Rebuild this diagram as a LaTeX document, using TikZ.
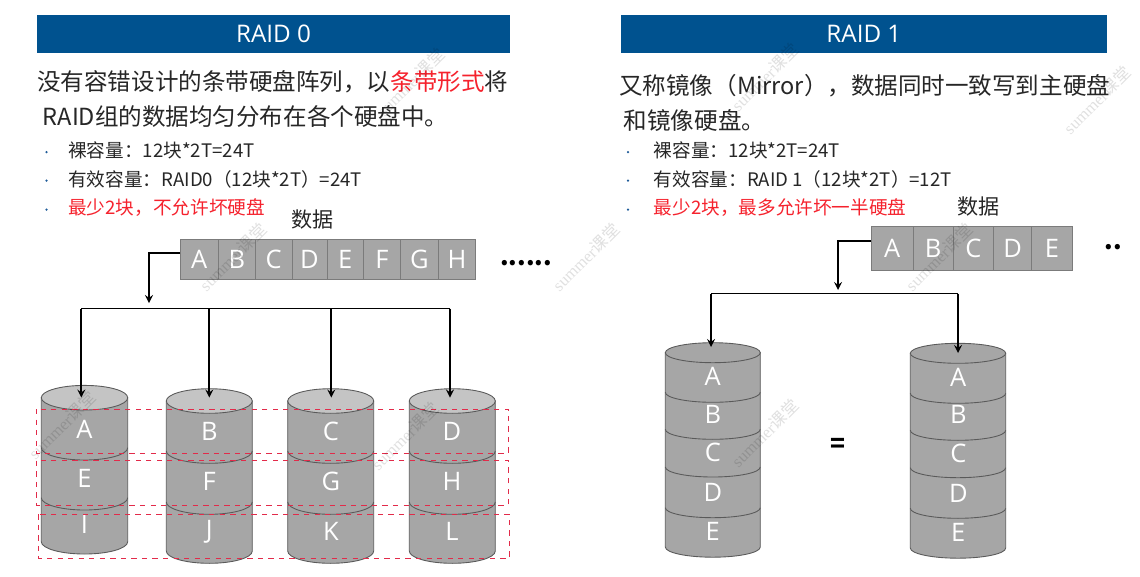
\documentclass[tikz,border=0pt]{standalone}
\usepackage{fontspec}
\setmainfont{Noto Sans CJK SC}
\newfontfamily\letterfont{Open Sans}
\newfontfamily\markfont{Liberation Serif}
\newfontfamily\markcjk{Noto Sans CJK SC}
\definecolor{barblue}{HTML}{00528F}
\definecolor{diskgray}{HTML}{A6A6A6}
\definecolor{disktop}{HTML}{C4C4C4}
\definecolor{diskline}{HTML}{5A5A5A}
\definecolor{stripered}{HTML}{E22B4A}
\definecolor{bodytext}{HTML}{262626}
\definecolor{hotred}{HTML}{F5222D}
\definecolor{dotblue}{HTML}{1F5C99}
\tikzset{
  titlebar/.style={fill=barblue,text=white,inner sep=0pt,minimum height=37.5*0.02cm,font=\letterfont\fontsize{13.8pt}{15pt}\selectfont},
  headline/.style={anchor=west,inner sep=0pt,text=bodytext,font=\fontsize{13.4pt}{16pt}\selectfont},
  itemline/.style={anchor=west,inner sep=0pt,text=bodytext,font=\fontsize{10.6pt}{12pt}\selectfont},
  bullet/.style={circle,fill=dotblue,inner sep=0pt,minimum size=2.5*0.02cm},
  datalabel/.style={inner sep=0pt,text=bodytext,font=\fontsize{12pt}{14pt}\selectfont},
  cell/.style={draw=diskline!80,fill=diskgray,text=white,inner sep=0pt,line width=0.4pt,font=\letterfont\fontsize{14.5pt}{16pt}\selectfont},
  cella/.style={cell,minimum height=40.3*0.02cm},
  cellb/.style={cell,minimum height=44.3*0.02cm},
  disk/.style={draw=diskline,fill=diskgray,line width=0.5pt},
  seam/.style={draw=diskline,line width=0.5pt},
  disklabel/.style={text=white,inner sep=0pt,font=\letterfont\fontsize{14.5pt}{16pt}\selectfont},
  wire/.style={draw=black,line width=1pt},
  arrow/.style={wire,-stealth},
  stripe/.style={draw=stripered,dashed,line width=0.5pt},
  dots/.style={inner sep=0pt,font=\bfseries\fontsize{14pt}{16pt}\selectfont},
  wmark/.style={rotate=45,inner sep=0pt,text=black,opacity=0.12,font=\markfont\fontsize{9.5pt}{11pt}\selectfont},
}

\begin{document}
\begin{tikzpicture}[x=0.02cm,y=-0.02cm]
\useasboundingbox (0,0) rectangle (1140,576);

% left panel
\node[titlebar,minimum width=473*0.02cm] (title0) at (273.5,34) {RAID 0};
\node[headline] (head0a) at (37,82) {没有容错设计的条带硬盘阵列，以\textcolor{hotred}{条带形式}将};
\node[headline] (head0b) at (42.5,116) {RAID组的数据均匀分布在各个硬盘中。};
\node[bullet] (dot0a) at (46.5,152) {};
\node[bullet] (dot0b) at (46.5,180.5) {};
\node[bullet] (dot0c) at (46.5,209.5) {};
\node[itemline] (item0a) at (68,150.7) {裸容量：12块*2T=24T};
\node[itemline] (item0b) at (68,179) {有效容量：RAID0（12块*2T）=24T};
\node[itemline,text=hotred] (item0c) at (68,208) {最少2块，不允许坏硬盘};
\node[datalabel] (data0) at (312.7,219.3) {数据};

\node[cella,minimum width=37.8*0.02cm] (a0) at (199.3,259.2) {A};
\node[cella,minimum width=37.1*0.02cm] (b0) at (236.8,259.2) {B};
\node[cella,minimum width=36.7*0.02cm] (c0) at (273.6,259.2) {C};
\node[cella,minimum width=34.9*0.02cm] (d0) at (309.5,259.2) {D};
\node[cella,minimum width=36.7*0.02cm] (e0) at (345.3,259.2) {E};
\node[cella,minimum width=36.8*0.02cm] (f0) at (382,259.2) {F};
\node[cella,minimum width=38.1*0.02cm] (g0) at (419.4,259.2) {G};
\node[cella,minimum width=37.1*0.02cm] (h0) at (457,259.2) {H};
\node[dots] (more0) at (526,263) {......};

% disks of raid 0
\draw[disk] (41.3,397.7) -- (41.3,541.7) arc[start angle=180,end angle=0,x radius=43.2,y radius=12.3] -- (127.7,397.7) -- cycle;
\draw[disk,fill=disktop] (84.5,397.7) ellipse [x radius=43.2,y radius=12.3];
\draw[seam] (41.3,447.7) arc[start angle=180,end angle=0,x radius=43.2,y radius=12.3];
\draw[seam] (41.3,497.7) arc[start angle=180,end angle=0,x radius=43.2,y radius=12.3];
\node[disklabel] (da) at (84.5,429) {A};
\node[disklabel] (de) at (84.5,478) {E};
\node[disklabel] (di) at (84.5,524) {I};

\draw[disk] (166.3,401) -- (166.3,551) arc[start angle=180,end angle=0,x radius=43,y radius=12.3] -- (252.3,401) -- cycle;
\draw[disk,fill=disktop] (209.3,401) ellipse [x radius=43,y radius=12.3];
\draw[seam] (166.3,451) arc[start angle=180,end angle=0,x radius=43,y radius=12.3];
\draw[seam] (166.3,502) arc[start angle=180,end angle=0,x radius=43,y radius=12.3];
\node[disklabel] (db) at (209.3,431.7) {B};
\node[disklabel] (df) at (209.3,481.7) {F};
\node[disklabel] (dj) at (209.3,531.7) {J};

\draw[disk] (287.7,401) -- (287.7,551) arc[start angle=180,end angle=0,x radius=43,y radius=12.3] -- (373.7,401) -- cycle;
\draw[disk,fill=disktop] (330.7,401) ellipse [x radius=43,y radius=12.3];
\draw[seam] (287.7,451) arc[start angle=180,end angle=0,x radius=43,y radius=12.3];
\draw[seam] (287.7,502) arc[start angle=180,end angle=0,x radius=43,y radius=12.3];
\node[disklabel] (dc) at (331,431.7) {C};
\node[disklabel] (dg) at (331,481.7) {G};
\node[disklabel] (dk) at (331,531.7) {K};

\draw[disk] (409.3,401) -- (409.3,551) arc[start angle=180,end angle=0,x radius=43,y radius=12.3] -- (495.3,401) -- cycle;
\draw[disk,fill=disktop] (452.3,401) ellipse [x radius=43,y radius=12.3];
\draw[seam] (409.3,451) arc[start angle=180,end angle=0,x radius=43,y radius=12.3];
\draw[seam] (409.3,502) arc[start angle=180,end angle=0,x radius=43,y radius=12.3];
\node[disklabel] (dd) at (452,431.7) {D};
\node[disklabel] (dh) at (452,481.7) {H};
\node[disklabel] (dl) at (452,531.7) {L};

\draw[stripe] (36.7,409) rectangle (508.3,453.3);
\draw[stripe] (36.7,460.7) rectangle (508.3,505);
\draw[stripe] (38.3,514.3) rectangle (509.3,558.3);

\coordinate (drop0) at (149,303);
\coordinate (bus1) at (81.3,308.5);
\coordinate (bus2) at (209.3,308.5);
\coordinate (bus3) at (331.3,308.5);
\coordinate (bus4) at (450,308.5);
\coordinate (top1) at (81.3,397.5);
\coordinate (top2) at (209.3,397.5);
\coordinate (top3) at (331.3,397.5);
\coordinate (top4) at (450,397.5);
\draw[arrow] (a0.west |- 0,253) -| (drop0);
\draw[wire] (bus1) -- (bus4);
\draw[arrow] (bus1) -- (top1);
\draw[arrow] (bus2) -- (top2);
\draw[arrow] (bus3) -- (top3);
\draw[arrow] (bus4) -- (top4);

% right panel
\node[titlebar,minimum width=485.7*0.02cm] (title1) at (863.9,34) {RAID 1};
\node[headline] (head1a) at (619,86) {又称镜像（Mirror），数据同时一致写到主硬盘};
\node[headline] (head1b) at (623.5,120.7) {和镜像硬盘。};
\node[bullet] (dot1a) at (628,152) {};
\node[bullet] (dot1b) at (628,180.5) {};
\node[bullet] (dot1c) at (628,209.5) {};
\node[itemline] (item1a) at (653.6,150.7) {裸容量：12块*2T=24T};
\node[itemline] (item1b) at (653.6,179) {有效容量：RAID 1（12块*2T）=12T};
\node[itemline,text=hotred] (item1c) at (653.6,208) {最少2块，最多允许坏一半硬盘};
\node[datalabel] (data1) at (978.4,206.7) {数据};

\node[cellb,minimum width=41.4*0.02cm] (a1) at (892.2,248.2) {A};
\node[cellb,minimum width=40.4*0.02cm] (b1) at (933.1,248.2) {B};
\node[cellb,minimum width=40.3*0.02cm] (c1) at (973.5,248.2) {C};
\node[cellb,minimum width=37.9*0.02cm] (d1) at (1012.6,248.2) {D};
\node[cellb,minimum width=41*0.02cm] (e1) at (1052,248.2) {E};
\node[dots] (more1) at (1113,247) {..};

% disks of raid 1
\draw[disk] (665.3,352.7) -- (665.3,547) arc[start angle=180,end angle=0,x radius=47.5,y radius=10.2] -- (760.3,352.7) -- cycle;
\draw[disk] (712.8,352.7) ellipse [x radius=47.5,y radius=10];
\draw[seam] (665.3,392.3) arc[start angle=180,end angle=0,x radius=47.5,y radius=10];
\draw[seam] (665.3,429.3) arc[start angle=180,end angle=0,x radius=47.5,y radius=10];
\draw[seam] (665.3,467) arc[start angle=180,end angle=0,x radius=47.5,y radius=10];
\draw[seam] (665.3,507.7) arc[start angle=180,end angle=0,x radius=47.5,y radius=10];
\node[disklabel] (ma) at (712.8,376.7) {A};
\node[disklabel] (mb) at (712.8,414) {B};
\node[disklabel] (mc) at (712.8,452.3) {C};
\node[disklabel] (md) at (712.8,492.7) {D};
\node[disklabel] (me) at (712.8,531.7) {E};

\draw[disk] (910.3,353.3) -- (910.3,548) arc[start angle=180,end angle=0,x radius=47.7,y radius=10.2] -- (1005.7,353.3) -- cycle;
\draw[disk] (958,353.3) ellipse [x radius=47.7,y radius=10];
\draw[seam] (910.3,393.3) arc[start angle=180,end angle=0,x radius=47.7,y radius=10];
\draw[seam] (910.3,430.3) arc[start angle=180,end angle=0,x radius=47.7,y radius=10];
\draw[seam] (910.3,467.7) arc[start angle=180,end angle=0,x radius=47.7,y radius=10];
\draw[seam] (910.3,508.3) arc[start angle=180,end angle=0,x radius=47.7,y radius=10];
\node[disklabel] (na) at (958.3,377.3) {A};
\node[disklabel] (nb) at (958.3,414.7) {B};
\node[disklabel] (nc) at (958.3,453) {C};
\node[disklabel] (nd) at (958.3,493.3) {D};
\node[disklabel] (ne) at (958.3,532.3) {E};

\node[inner sep=0pt,font=\bfseries\fontsize{14pt}{16pt}\selectfont] (equal) at (838,445) {=};

\coordinate (drop1) at (838,290);
\coordinate (bus5) at (711,293.5);
\coordinate (bus6) at (958,293.5);
\coordinate (top5) at (711,347);
\coordinate (top6) at (958,353);
\draw[arrow] (a1.west |- 0,241) -| (drop1);
\draw[wire] (bus5) -- (bus6);
\draw[arrow] (bus5) -- (top5);
\draw[arrow] (bus6) -- (top6);

% watermarks
\node[wmark] (wm1) at (233,257) {summer{\markcjk 课堂}};
\node[wmark] (wm2) at (411,82) {summer{\markcjk 课堂}};
\node[wmark] (wm3) at (586,257) {summer{\markcjk 课堂}};
\node[wmark] (wm4) at (62,425) {summer{\markcjk 课堂}};
\node[wmark] (wm5) at (405,436) {summer{\markcjk 课堂}};
\node[wmark] (wm6) at (765,77) {summer{\markcjk 课堂}};
\node[wmark] (wm7) at (1097,100) {summer{\markcjk 课堂}};
\node[wmark] (wm8) at (939,257) {summer{\markcjk 课堂}};
\node[wmark] (wm9) at (765,433) {summer{\markcjk 课堂}};
\end{tikzpicture}
\end{document}
